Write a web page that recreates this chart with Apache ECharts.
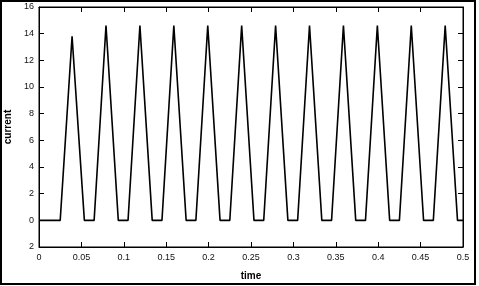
<!DOCTYPE html>
<html><head><meta charset="utf-8">
<script src="https://cdn.jsdelivr.net/npm/echarts@6/dist/echarts.min.js"></script>
<style>html,body{margin:0;padding:0;background:#fff}#c{width:479px;height:286px}</style>
</head><body><div id="c"></div>
<script>
var time = [0,0.025,0.039,0.0535,0.065,0.079,0.0935,0.105,0.119,0.1335,0.145,0.159,0.1735,0.185,0.199,0.2135,0.225,0.239,0.2535,0.265,0.279,0.2935,0.305,0.319,0.3335,0.345,0.359,0.3735,0.385,0.399,0.4135,0.425,0.439,0.4535,0.465,0.479,0.4935,0.5];
var current = [0,0,13.8,0,0,14.6,0,0,14.6,0,0,14.6,0,0,14.6,0,0,14.6,0,0,14.6,0,0,14.6,0,0,14.6,0,0,14.6,0,0,14.6,0,0,14.6,0,0];
var xTicks = [0,0.05,0.1,0.15,0.2,0.25,0.3,0.35,0.4,0.45,0.5];
var yTicks = [-2,0,2,4,6,8,10,12,14,16];

var chart = echarts.init(document.getElementById('c'), null, {renderer:'canvas'});
var pts = time.map(function(t,i){return [t,current[i]];});
var fontFam = '"Liberation Sans", Arial, sans-serif';
function xFmt(v){ return String(+v.toFixed(2)); }
function yFmt(v){ return String(Math.abs(v)); }
chart.setOption({
  animation:false,
  grid:{left:39, top:7, right:16, bottom:39, show:true, borderColor:'#000', borderWidth:1,
    containLabel:false, outerBoundsMode:'none'},
  xAxis:[{type:'value', min:0, max:0.5, interval:0.05, position:'bottom',
    name:'time', nameLocation:'middle', nameGap:24,
    nameTextStyle:{color:'#000', fontSize:10, fontWeight:'bold', fontFamily:fontFam},
    axisLine:{show:true, onZero:false, lineStyle:{color:'#000'}},
    axisTick:{show:true, inside:true, length:5, lineStyle:{color:'#000'}},
    axisLabel:{color:'#111', fontSize:9, fontFamily:fontFam, margin:6, formatter:xFmt},
    splitLine:{show:false}},
    {type:'value', min:0, max:0.5, interval:0.05, position:'top',
    axisLine:{show:true, onZero:false, lineStyle:{color:'#000'}},
    axisTick:{show:true, inside:true, length:5, lineStyle:{color:'#000'}},
    axisLabel:{show:false}, splitLine:{show:false}}],
  yAxis:[{type:'value', min:-2, max:16, interval:2, position:'left',
    name:'current', nameLocation:'middle', nameGap:23, nameRotate:90,
    nameTextStyle:{color:'#000', fontSize:10, fontWeight:'bold', fontFamily:fontFam},
    axisLine:{show:true, onZero:false, lineStyle:{color:'#000'}},
    axisTick:{show:true, inside:true, length:5, lineStyle:{color:'#000'}},
    axisLabel:{color:'#111', fontSize:9, fontFamily:fontFam, margin:5, formatter:yFmt},
    splitLine:{show:false}},
    {type:'value', min:-2, max:16, interval:2, position:'right',
    axisLine:{show:true, onZero:false, lineStyle:{color:'#000'}},
    axisTick:{show:true, inside:true, length:5, lineStyle:{color:'#000'}},
    axisLabel:{show:false}, splitLine:{show:false}}],
  series:[{type:'line', xAxisIndex:0, yAxisIndex:0, data:pts, symbol:'none',
    lineStyle:{color:'#000', width:1.6}}],
  graphic:[{type:'rect', shape:{x:1, y:1, width:474, height:283},
    style:{fill:'none', stroke:'#000', lineWidth:2}, silent:true}]
});
</script></body></html>
